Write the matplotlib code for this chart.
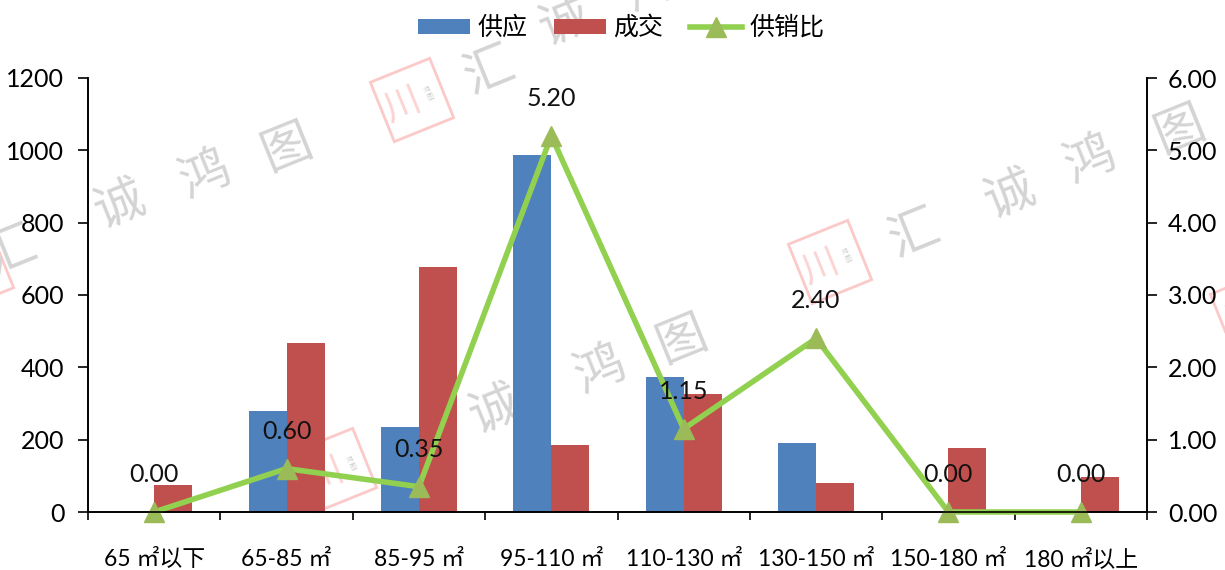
import numpy as np
import matplotlib
matplotlib.use("Agg")
import matplotlib.pyplot as plt
from matplotlib.patches import Rectangle
from matplotlib.transforms import Affine2D

plt.rcParams['font.family'] = ['Lato', 'Noto Sans CJK SC', 'DejaVu Sans']

# Data
categories = ['65 ㎡以下', '65-85 ㎡', '85-95 ㎡', '95-110 ㎡', '110-130 ㎡', '130-150 ㎡', '150-180 ㎡', '180 ㎡以上']
supply = [0, 279, 236, 986, 372, 191, 0, 0]
deals = [76, 466, 677, 186, 325, 81, 176, 97]
ratio = [0.00, 0.60, 0.35, 5.20, 1.15, 2.40, 0.00, 0.00]

# Watermark pieces, pixel positions in the image
wm_chars = [('汇', 12, 252), ('诚', 120, 205), ('鸿', 205, 175), ('图', 287, 148),
            ('汇', 490, 72), ('诚', 565, 22), ('鸿', 650, -12),
            ('诚', 495, 410), ('鸿', 600, 370), ('图', 682, 340),
            ('汇', 915, 235), ('诚', 1010, 195), ('鸿', 1090, 160), ('图', 1180, 130)]
wm_stamps = [(412, 100), (335, 470), (830, 262), (-28, 270), (1252, 312)]

W, H = 1225, 570
fig = plt.figure(figsize=(W / 100, H / 100), dpi=100)
ax = fig.add_axes([88 / W, 1 - 512 / H, (1147 - 88) / W, (512 - 78) / H])
ax.patch.set_alpha(0)
ax2 = ax.twinx()
ax2.patch.set_alpha(0)

# Watermark behind the axes
for ch, px, py in wm_chars:
    fig.text(px / W, 1 - py / H, ch, fontsize=36, color='#d4d4d4', rotation=22, ha='center', va='center',
             zorder=-5)
for px, py in wm_stamps:
    tr = Affine2D().rotate_deg(22).translate(px, H - py)
    fig.add_artist(Rectangle((-32, -32), 64, 64, fill=False, ec='#fcc9c9', lw=2, transform=tr, zorder=-5))
    fig.text((px - 9) / W, 1 - (py + 4) / H, '川', fontsize=26, color='#fcd2d2', rotation=22, ha='center',
             va='center', zorder=-5)
    fig.text((px + 17) / W, 1 - (py - 7) / H, '鸿\n图', fontsize=5, color='#cccccc', rotation=22, ha='center',
             va='center', zorder=-5)

x = np.arange(len(categories))
w = 0.287
b1 = ax.bar(x - w / 2, supply, w, color='#4F81BD', label='供应')
b2 = ax.bar(x + w / 2, deals, w, color='#C0504D', label='成交')

line, = ax2.plot(x, ratio, color='#92D050', lw=4, marker='^', ms=15, mfc='#9BBB59', mec='#9BBB59',
                 clip_on=False, label='供销比')
for xi, r in zip(x, ratio):
    ax2.annotate('%.2f' % r, (xi, r), xytext=(0, 27), textcoords='offset points', ha='center', va='center',
                 fontsize=18, color='#111111')

ax.set_xlim(-0.5, 7.5)
ax.set_ylim(0, 1200)
ax2.set_ylim(0, 6)
ax.set_yticks(range(0, 1201, 200))
ax2.set_yticks(range(0, 7))
ax2.set_yticklabels(['%.2f' % v for v in range(0, 7)])

ax.set_xticks(np.arange(-0.5, 8, 1))
ax.set_xticklabels([])
ax.set_xticks(x, minor=True)
ax.set_xticklabels(categories, minor=True, fontsize=16.5, va='baseline')
ax.tick_params(axis='x', which='minor', length=0, pad=39)
ax.tick_params(axis='x', which='major', length=6, width=1.2, direction='out')
ax.tick_params(axis='y', length=7, width=1.2, labelsize=18, pad=10)
ax2.tick_params(axis='y', length=7, width=1.2, labelsize=18, pad=8)

for a in (ax, ax2):
    a.spines['top'].set_visible(False)
    a.spines['left'].set_linewidth(1.2)
    a.spines['right'].set_linewidth(1.2)
    a.spines['bottom'].set_linewidth(1.2)

fig.legend(handles=[b1, b2, line], loc='center', bbox_to_anchor=(621 / W, 1 - 27 / H), ncol=3, frameon=False,
           fontsize=18, handlelength=2.08, handletextpad=0.28, columnspacing=1.08, handleheight=0.55)

fig.savefig('out.png', dpi=100)
